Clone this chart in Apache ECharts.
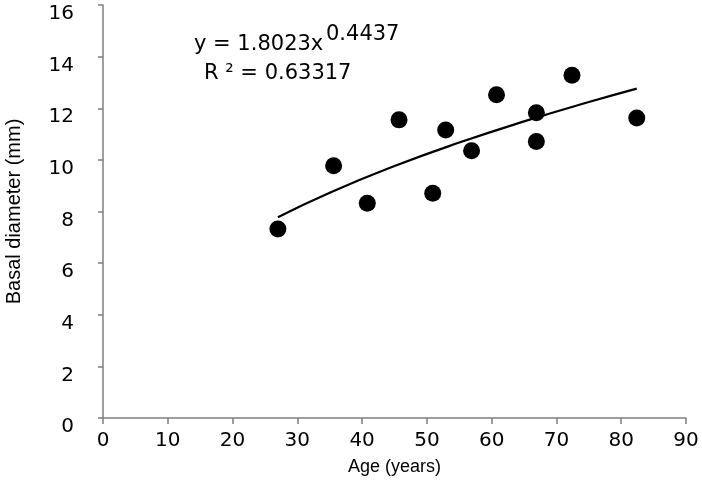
<!DOCTYPE html>
<html>
<head>
<meta charset="utf-8">
<script src="https://cdn.jsdelivr.net/npm/echarts@6/dist/echarts.min.js"></script>
<style>
html,body{margin:0;padding:0;background:#fff;}
#chart{width:702px;height:492px;}
</style>
</head>
<body>
<div id="chart"></div>
<script>
// Observed data (Age in years, Basal diameter in mm)
var ages = [27, 35.6, 40.8, 45.7, 50.9, 52.9, 56.9, 60.75, 66.9, 66.9, 72.4, 82.4];
var diameters = [7.32, 9.77, 8.32, 11.55, 8.71, 11.16, 10.35, 12.52, 11.83, 10.71, 13.28, 11.62];
// Trend line points
var trendX = [27, 35, 45, 55, 65, 75, 82.4];
var trendY = [7.78, 8.73, 9.76, 10.67, 11.49, 12.24, 12.76];
var xTicks = [0, 10, 20, 30, 40, 50, 60, 70, 80, 90];
var yTicks = [0, 2, 4, 6, 8, 10, 12, 14, 16];

var nameFont = '"Liberation Sans", Arial, sans-serif';
var tickFont = '"DejaVu Sans", sans-serif';
var chart = echarts.init(document.getElementById('chart'), null, {renderer: 'canvas'});
var pts = ages.map(function (a, i) { return [a, diameters[i]]; });
var trend = trendX.map(function (a, i) { return [a, trendY[i]]; });
var axisColor = '#7f7f7f';
chart.setOption({
  animation: false,
  backgroundColor: '#ffffff',
  grid: {left: 103, right: 16, top: 5, bottom: 74, containLabel: false, outerBoundsMode: 'none'},
  xAxis: {
    type: 'value', min: xTicks[0], max: xTicks[xTicks.length - 1], interval: 10,
    name: 'Age (years)', nameLocation: 'middle', nameGap: 40,
    nameTextStyle: {fontFamily: nameFont, fontSize: 18, color: '#000'},
    axisLine: {show: true, lineStyle: {color: axisColor, width: 1.5}},
    axisTick: {show: true, inside: false, length: 6, lineStyle: {color: axisColor, width: 1.5}},
    axisLabel: {fontFamily: tickFont, fontSize: 20, color: '#000', margin: 13},
    splitLine: {show: false}
  },
  yAxis: {
    type: 'value', min: yTicks[0], max: yTicks[yTicks.length - 1], interval: 2,
    name: 'Basal diameter (mm)', nameLocation: 'middle', nameGap: 79,
    nameTextStyle: {fontFamily: nameFont, fontSize: 20, color: '#000'},
    axisLine: {show: true, lineStyle: {color: axisColor, width: 1.5}},
    axisTick: {show: true, inside: false, length: 5, lineStyle: {color: axisColor, width: 1.5}},
    axisLabel: {fontFamily: tickFont, fontSize: 20, color: '#000', margin: 29, verticalAlign: 'top', lineHeight: 18},
    splitLine: {show: false}
  },
  series: [
    {
      type: 'line', data: trend, smooth: true, showSymbol: false, symbol: 'none',
      lineStyle: {color: '#000', width: 2.2}, z: 2
    },
    {
      type: 'scatter', data: pts, symbol: 'circle', symbolSize: 17,
      itemStyle: {color: '#000', opacity: 1}, z: 3
    }
  ],
  graphic: [
    {type: 'text', left: 194, top: 34, style: {text: 'y = 1.8023x', fontFamily: tickFont, fontSize: 21, fill: '#000'}},
    {type: 'text', left: 326, top: 24, style: {text: '0.4437', fontFamily: tickFont, fontSize: 21, fill: '#000'}},
    {type: 'text', left: 204, top: 63, style: {text: 'R ² = 0.63317', fontFamily: tickFont, fontSize: 21, fill: '#000'}}
  ]
});
</script>
</body>
</html>
